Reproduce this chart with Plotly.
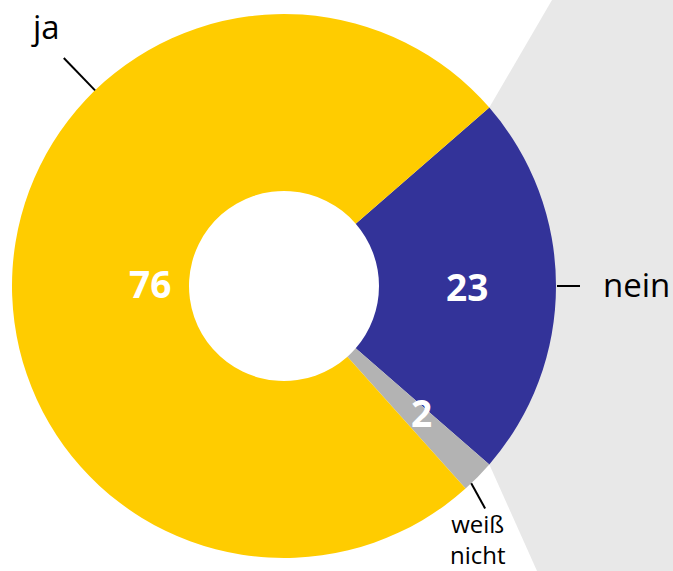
import math
import plotly.graph_objects as go

labels = ["nein", "weiß nicht", "ja"]
values = [23, 2, 76]
colors = ["#333399", "#b3b3b3", "#ffcc00"]
label_texts = ["nein", "weiß<br>nicht", "ja"]

W, H = 673, 571
cx, cy, R, R_in = 284, 286, 272, 95

def px(x, y):
    return x / W, 1 - y / H

total = sum(values)
# nein centred on 3 o'clock, clockwise
half0 = values[0] / total * 180
rotation = 90 - half0

# slice mid angles (math degrees, ccw from 3 o'clock)
mids = []
start = half0
for v in values:
    span = v / total * 360
    mids.append(start - span / 2)
    start -= span

def polar(angle_deg, rad):
    a = math.radians(angle_deg)
    return cx + rad * math.cos(a), cy - rad * math.sin(a)

fig = go.Figure()
fig.add_trace(go.Pie(
    labels=labels, values=values, sort=False, direction="clockwise",
    rotation=rotation, hole=R_in / R,
    marker=dict(colors=colors, line=dict(width=0)),
    textinfo="none", hoverinfo="label+value", showlegend=False,
    domain=dict(x=[(cx - R) / W, (cx + R) / W],
                y=[1 - (cy + R) / H, 1 - (cy - R) / H]),
))

# grey backdrop behind "nein"
e1 = polar(half0, R)
e2 = polar(half0 - values[0] / total * 360, R)
pts = [e1, (552, 0), (W, 0), (W, H), (537, H), e2]
path = "M " + " L ".join(f"{px(x, y)[0]:.5f},{px(x, y)[1]:.5f}" for x, y in pts) + " Z"
shapes = [dict(type="path", path=path, xref="paper", yref="paper",
               fillcolor="#e8e8e8", line=dict(width=0), layer="below")]

# leader lines: (angle, r_inner, r_outer)
leaders = [(0, R + 1, R + 24), (-46.5, R, R + 28), (134, R, R + 45)]
for ang, r1, r2 in leaders:
    x1, y1 = polar(ang, r1)
    x2, y2 = polar(ang - (1.4 if ang < -40 else 0), r2)
    a, b = px(x1, y1)
    c, d = px(x2, y2)
    shapes.append(dict(type="line", xref="paper", yref="paper", x0=a, y0=b, x1=c, y1=d,
                       line=dict(color="black", width=2)))

annotations = []
# value labels (angle offsets from slice mid, radius)
val_adj = [(0, 183), (2, 187), (180 - mids[2] - 1, 134)]
for v, m, (da, rr) in zip(values, mids, val_adj):
    x, y = polar(m + da, rr)
    a, b = px(x, y)
    annotations.append(dict(text=str(v), x=a, y=b, xref="paper", yref="paper",
                            showarrow=False, xanchor="center", yanchor="middle",
                            font=dict(family="Open Sans", size=37, color="white", weight=700)))

# category labels
lab_pos = [(636, 284, 33), (478, 539, 24), (46, 27, 33)]
for t, (x, y, s) in zip(label_texts, lab_pos):
    a, b = px(x, y)
    annotations.append(dict(text=t, x=a, y=b, xref="paper", yref="paper",
                            showarrow=False, xanchor="center", yanchor="middle",
                            borderpad=0,
                            font=dict(family="Open Sans", size=s, color="black")))

fig.update_layout(width=W, height=H, margin=dict(l=0, r=0, t=0, b=0),
                  paper_bgcolor="white", plot_bgcolor="white",
                  shapes=shapes, annotations=annotations)
fig.write_html("out.html", config={"displayModeBar": False},
               post_script="document.body.style.margin='0';document.body.style.overflow='hidden';")
